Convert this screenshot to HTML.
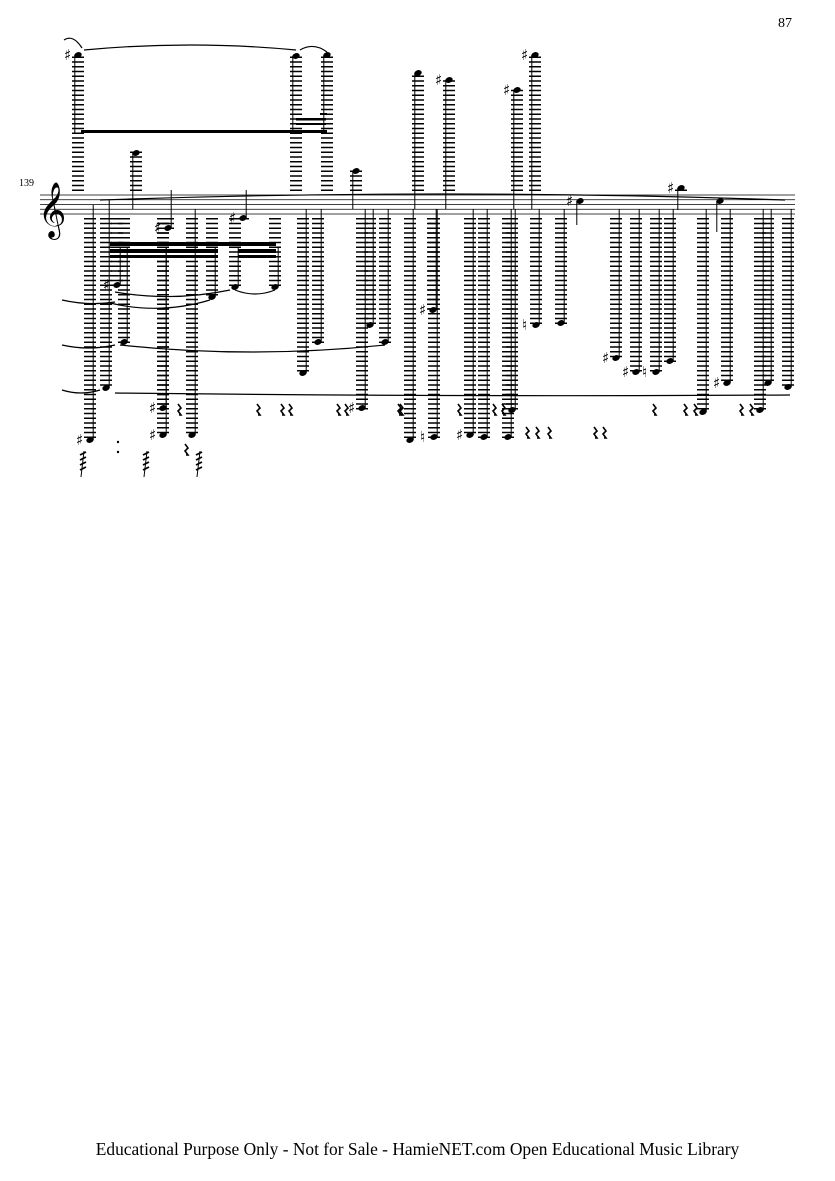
<!DOCTYPE html>
<html><head><meta charset="utf-8"><style>
html,body{margin:0;padding:0;background:#fff;}
body{width:835px;height:1181px;position:relative;overflow:hidden;font-family:"Liberation Serif",serif;}
#pn{position:absolute;left:778px;top:16px;font-size:14px;}
#mn{position:absolute;left:19px;top:178px;font-size:10px;}
#ft{position:absolute;left:0;width:835px;top:1139px;text-align:center;font-size:17.4px;}
svg{position:absolute;left:0;top:0;}
</style></head><body>
<div id="pn">87</div>
<div id="mn">139</div>
<div id="ft">Educational Purpose Only - Not for Sale - HamieNET.com Open Educational Music Library</div>
<svg id="s" width="835" height="1181" xmlns="http://www.w3.org/2000/svg"></svg>
<script>
var s=document.getElementById('s'),o='';
var T=195,B=214,sp=4.75;
for(var i=0;i<5;i++){o+='<line x1="40" x2="795" y1="'+(T+i*sp)+'" y2="'+(T+i*sp)+'" stroke="#000" stroke-width="0.8"/>';}
o+='<text x="38" y="226" font-size="48" font-family="DejaVu Sans">𝄞</text>';
function led(x,y){var r='';if(y>B+2){for(var yy=B+sp;yy<=y+1;yy+=sp)r+='<line x1="'+(x-6)+'" x2="'+(x+6)+'" y1="'+yy+'" y2="'+yy+'" stroke="#000" stroke-width="1.5"/>';}
 if(y<T-2){for(var yy=T-sp;yy>=y-1;yy-=sp)r+='<line x1="'+(x-6)+'" x2="'+(x+6)+'" y1="'+yy+'" y2="'+yy+'" stroke="#000" stroke-width="1.5"/>';}return r;}
function n(x,y,sy,acc){var r=led(x,y);r+='<ellipse cx="'+x+'" cy="'+y+'" rx="3.8" ry="2.8" transform="rotate(-20 '+x+' '+y+')"/>';
 var sx=sy<y?x+3.2:x-3.2;r+='<line x1="'+sx+'" x2="'+sx+'" y1="'+y+'" y2="'+sy+'" stroke="#000" stroke-width="1"/>';
 if(acc)r+='<text x="'+(x-14)+'" y="'+(y+5)+'" font-size="15" font-family="DejaVu Sans">'+acc+'</text>';return r;}
var N=[[78,55,133,'♯'],[296,56,133],[327,55,133],[136,153,209],[90,440,205,'♯'],[106,388,200],[117,285,248,'♯'],[124,342,248],[163,435,248,'♯'],[163,408,248,'♯'],[168,228,190,'♯'],[192,435,209],[212,297,248],[235,287,248],[243,218,190,'♯'],[275,287,248],[303,373,209],[318,342,209],[356,171,209],[362,408,209,'♯'],[370,325,209],[385,342,209],[410,440,209],[418,73,209],[433,310,209,'♯'],[434,437,209,'♮'],[449,80,209,'♯'],[470,435,209,'♯'],[484,437,209],[508,437,209],[517,90,209,'♯'],[512,410,209],[535,55,209,'♯'],[536,325,209,'♮'],[561,323,209],[580,201,225,'♯'],[616,358,209,'♯'],[636,372,209,'♯'],[656,372,209,'♮'],[670,361,209],[681,188,210,'♯'],[703,412,209],[720,201,232],[727,383,209,'♯'],[760,410,209],[768,383,209],[788,387,209]];
N.forEach(function(a){o+=n(a[0],a[1],a[2],a[3]);});
o+='<rect x="81" y="130" width="246" height="3"/><rect x="296" y="118" width="30" height="2.5"/><rect x="296" y="123" width="30" height="2"/><rect x="320" y="113" width="7" height="2"/>';
o+='<polygon points="110,242 276,242 276,246 110,246"/><polygon points="110,249 218,249 218,253 110,253"/><polygon points="110,255 218,255 218,258 110,258"/><polygon points="238,249 276,249 276,253 238,253"/><polygon points="238,255 276,255 276,258 238,258"/>';
function sl(x1,y1,x2,y2,h){return '<path d="M'+x1+' '+y1+' Q'+((x1+x2)/2)+' '+(y1+h)+' '+x2+' '+y2+'" fill="none" stroke="#000" stroke-width="1.2"/>';}
o+=sl(84,50,296,50,-10)+sl(300,50,327,52,-8)+sl(64,40,82,48,-6)+sl(62,300,115,302,6)+sl(115,292,230,290,10)+sl(235,290,275,290,8)+sl(110,303,210,300,12)+sl(62,345,115,345,6)+sl(120,345,385,345,14)+sl(62,390,100,390,6)+sl(115,393,790,395,4)+sl(100,200,785,200,-12);
function rest(x,y){return '<path d="M'+x+' '+(y-6)+' l3 4 l-3 3 l3 4 l-2 0" fill="none" stroke="#000" stroke-width="1.6"/>';}
[[178,410],[257,410],[281,410],[289,410],[337,410],[345,410],[398,410],[400,410],[458,410],[493,410],[502,410],[653,410],[684,410],[694,410],[740,410],[750,410],[526,433],[536,433],[548,433],[594,433],[603,433],[185,450]].forEach(function(r){o+=rest(r[0],r[1]);});
function tr(x,y){var r='';for(var k=0;k<4;k++)r+='<line x1="'+(x-3)+'" x2="'+(x+3)+'" y1="'+(y+k*5)+'" y2="'+(y+k*5-3)+'" stroke="#000" stroke-width="1.8"/>';r+='<line x1="'+(x+1)+'" x2="'+(x-2)+'" y1="'+(y-4)+'" y2="'+(y+22)+'" stroke="#000"/>';return r;}
o+=tr(83,455)+tr(146,455)+tr(199,455);
o+='<circle cx="118" cy="442" r="1.2"/><circle cx="118" cy="452" r="1.2"/>';
s.innerHTML=o;
</script>
</body></html>
